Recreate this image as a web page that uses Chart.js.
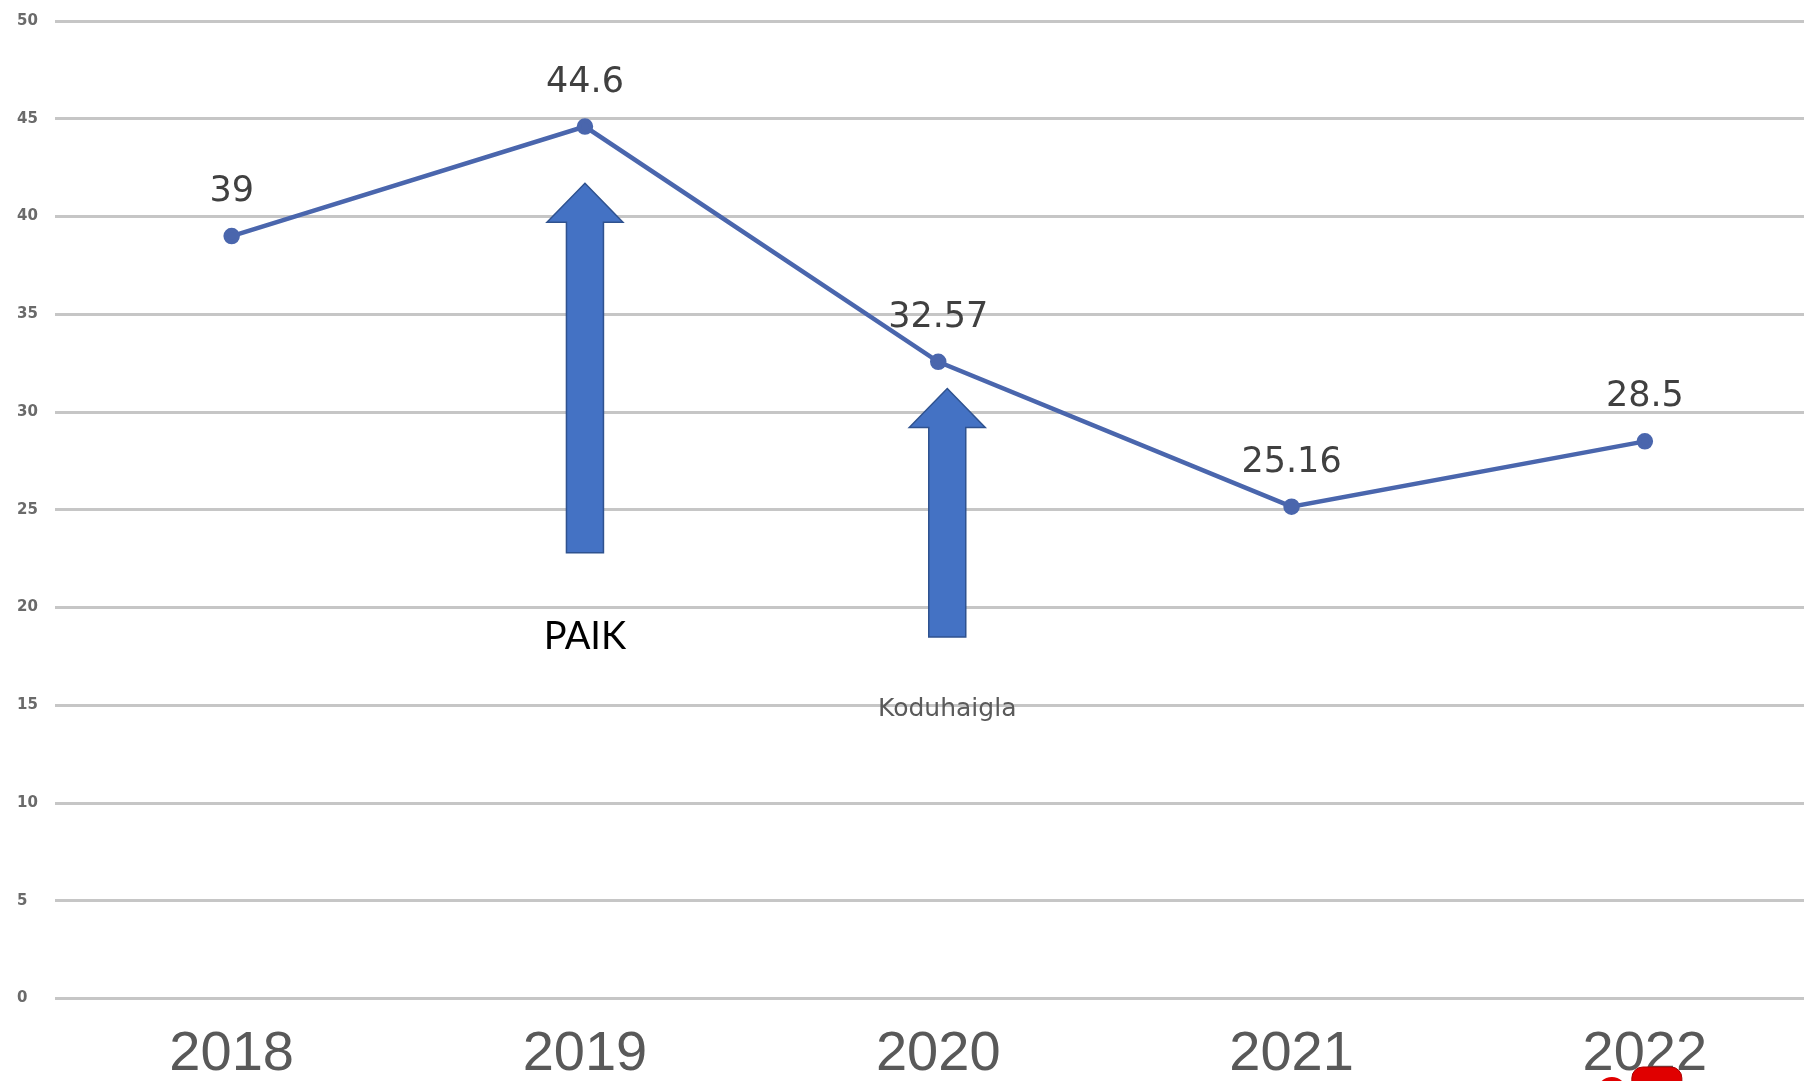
<!DOCTYPE html>
<html>
<head>
<meta charset="utf-8">
<script src="https://cdn.jsdelivr.net/npm/chart.js@4/dist/chart.umd.min.js"></script>
<style>
  html, body { margin: 0; padding: 0; background: #fff; overflow: hidden; }
  #chart { display: block; }
</style>
</head>
<body>
<canvas id="chart" width="1832" height="1081"></canvas>
<script>
  const years = ["2018", "2019", "2020", "2021", "2022"];
  const values = [39, 44.6, 32.57, 25.16, 28.5];
  const valueLabels = ["39", "44.6", "32.57", "25.16", "28.5"];
  const yMin = 0;
  const yMax = 50;
  const yStep = 5;

  // annotation arrows: category index, tip value, tail value
  const arrows = [
    { index: 1, top: 41.7, bottom: 22.8, dx: 0 },
    { index: 2, top: 31.2, bottom: 18.5, dx: 9 },
  ];
  const notes = [
    { index: 1, value: 18.5, text: "PAIK", dx: 0, font: "38px Lato", color: "#000000" },
    { index: 2, value: 14.8, text: "Koduhaigla", dx: 9, font: "25px 'DejaVu Sans'", color: "#5a5a5a" },
  ];

  const LINE_COLOR = "#4a66ad";

  const valueLabelPlugin = {
    id: "valueLabels",
    afterDatasetsDraw(chart) {
      const { ctx } = chart;
      const meta = chart.getDatasetMeta(0);
      ctx.save();
      ctx.font = "35px 'DejaVu Sans'";
      ctx.fillStyle = "#404040";
      ctx.textAlign = "center";
      ctx.textBaseline = "middle";
      meta.data.forEach((pt, i) => {
        ctx.fillText(valueLabels[i], pt.x, pt.y - 44);
      });
      ctx.restore();
    },
  };

  const annotationPlugin = {
    id: "annotations",
    afterDraw(chart) {
      const { ctx } = chart;
      const xs = chart.scales.x;
      const ys = chart.scales.y;
      ctx.save();
      arrows.forEach((a) => {
        const cx = xs.getPixelForValue(a.index) + a.dx;
        const tip = ys.getPixelForValue(a.top);
        const tail = ys.getPixelForValue(a.bottom);
        const headH = 39, headW = 38, shaftW = 18.5;
        ctx.beginPath();
        ctx.moveTo(cx, tip);
        ctx.lineTo(cx + headW, tip + headH);
        ctx.lineTo(cx + shaftW, tip + headH);
        ctx.lineTo(cx + shaftW, tail);
        ctx.lineTo(cx - shaftW, tail);
        ctx.lineTo(cx - shaftW, tip + headH);
        ctx.lineTo(cx - headW, tip + headH);
        ctx.closePath();
        ctx.fillStyle = "#4472C4";
        ctx.fill();
        ctx.lineWidth = 1.5;
        ctx.strokeStyle = "#2F528F";
        ctx.stroke();
      });
      notes.forEach((n) => {
        ctx.font = n.font;
        ctx.fillStyle = n.color;
        ctx.textAlign = "center";
        ctx.textBaseline = "middle";
        ctx.fillText(n.text, xs.getPixelForValue(n.index) + n.dx, ys.getPixelForValue(n.value));
      });

      // red sticker cut off at the bottom edge
      const rx = xs.getPixelForValue(4);
      ctx.fillStyle = "#e00000";
      ctx.strokeStyle = "#a80000";
      ctx.lineWidth = 1;
      ctx.beginPath();
      ctx.arc(rx - 33, 1092, 15, 0, Math.PI * 2);
      ctx.fill();
      ctx.beginPath();
      ctx.roundRect(rx - 13, 1067, 50, 30, 11);
      ctx.fill();
      ctx.stroke();
      ctx.restore();
    },
  };

  new Chart(document.getElementById("chart"), {
    type: "line",
    data: {
      labels: years,
      datasets: [
        {
          data: values,
          borderColor: LINE_COLOR,
          backgroundColor: LINE_COLOR,
          borderWidth: 4.5,
          pointRadius: 6,
          pointBackgroundColor: LINE_COLOR,
          pointBorderColor: LINE_COLOR,
          tension: 0,
        },
      ],
    },
    options: {
      responsive: false,
      animation: false,
      layout: { padding: { left: 17, top: 21, right: 2, bottom: 0 } },
      plugins: {
        legend: { display: false },
        tooltip: { enabled: false },
      },
      scales: {
        x: {
          type: "category",
          offset: true,
          grid: { display: false, drawTicks: false },
          border: { display: false },
          ticks: {
            color: "#595959",
            font: { family: "'Liberation Sans'", size: 56 },
            padding: 22,
            maxRotation: 0,
          },
          afterFit: (scale) => { scale.height = 82.4; },
        },
        y: {
          min: yMin,
          max: yMax,
          grid: { color: "#c6c6c6", lineWidth: 3, drawTicks: false },
          border: { display: false },
          ticks: {
            stepSize: yStep,
            crossAlign: "far",
            padding: 0,
            color: "#6a6a6a",
            font: { family: "'DejaVu Sans'", size: 15, weight: "bold" },
          },
          afterFit: (scale) => { scale.width = 38; },
        },
      },
    },
    plugins: [valueLabelPlugin, annotationPlugin],
  });
</script>
</body>
</html>
